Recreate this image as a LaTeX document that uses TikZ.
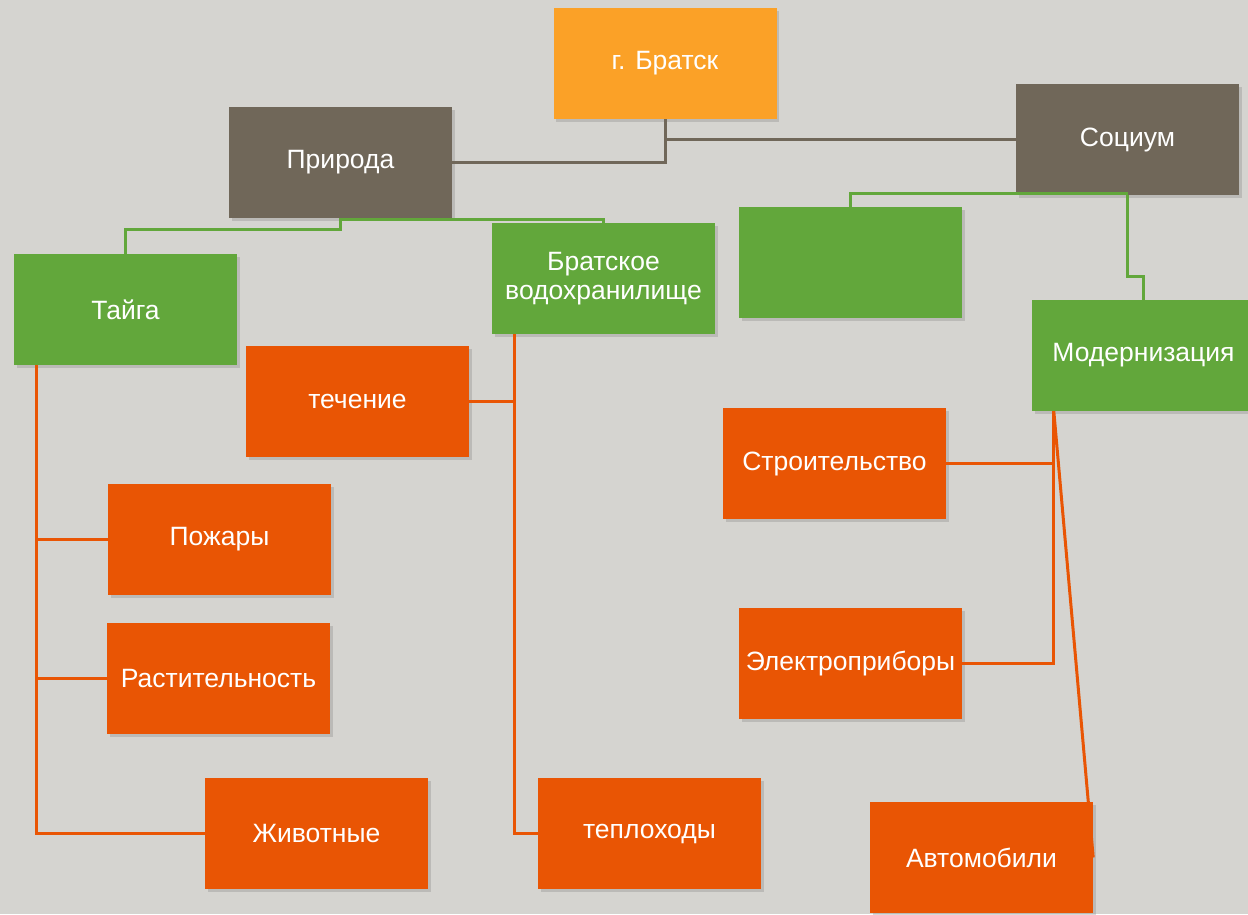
\documentclass[tikz,border=0pt]{standalone}
\usepackage{fontspec}
\setmainfont{Liberation Sans}
\usetikzlibrary{shadows}
\definecolor{bgc}{HTML}{D5D4D0}
\definecolor{gold}{HTML}{FBA127}
\definecolor{brn}{HTML}{706759}
\definecolor{grn}{HTML}{62A73B}
\definecolor{org}{HTML}{E95504}
\tikzset{
  box/.style={rectangle, minimum width=223pt, minimum height=111pt, inner sep=0pt,
    text=white, font=\fontsize{26.5}{29}\selectfont, align=center,
    drop shadow={shadow xshift=2.5pt, shadow yshift=-2.5pt, opacity=0.3}},
  goldbox/.style={box, fill=gold},
  brnbox/.style={box, fill=brn},
  grnbox/.style={box, fill=grn},
  orgbox/.style={box, fill=org},
  brnline/.style={draw=brn, line width=3pt},
  grnline/.style={draw=grn, line width=3pt},
  orgline/.style={draw=org, line width=3pt},
}
\begin{document}
\begin{tikzpicture}[x=1pt, y=-1pt]
\fill[bgc] (0,0) rectangle (1248,914);
\useasboundingbox (0,0) rectangle (1248,914);
\node[brnbox] (priroda) at (340.5,162.5) {Природа};
\node[goldbox] (bratsk) at (665,63.5) {г. Братск};
\node[brnbox] (socium) at (1127.5,139.5) {Социум};
\node[grnbox] (taiga) at (125.5,309.5) {Тайга};
\node[grnbox] (vodo) at (603.5,278.5) {Братское\\водохранилище};
\node[grnbox] (blank) at (850.5,262.5) {};
\node[grnbox] (modern) at (1143.5,355.5) {Модернизация};
\node[orgbox] (tech) at (357.5,401.5) {течение};
\node[orgbox] (pozh) at (219.5,539.5) {Пожары};
\node[orgbox] (rast) at (218.5,678.5) {Растительность};
\node[orgbox] (zhiv) at (316.5,833.5) {Животные};
\node[orgbox] (tepl) at (649.5,833.5) {теплоходы};
\node[orgbox] (stroi) at (834.5,463.5) {Строительство};
\node[orgbox] (elek) at (850.5,663.5) {Электроприборы};
\node[orgbox] (avto) at (981.5,857.5) {Автомобили};
% brown connectors
\draw[brnline] (priroda.east) -| (bratsk.south);
\draw[brnline] (bratsk.south |- socium.west) -- (socium.west);
% green connectors
\draw[grnline] (priroda.south) -- ++(0,11) -| (taiga.north);
\draw[grnline] ([yshift=-1.5pt]priroda.south) -| (vodo.north);
\draw[grnline] ([yshift=1.5pt]socium.south) -| (blank.north);
\draw[grnline] (socium.south) -- ++(0,81) -| (modern.north);
% orange connectors
\coordinate (tv) at ([xshift=23pt]taiga.south west);
\draw[orgline] (tv) |- (zhiv.west);
\draw[orgline] (tv |- pozh.west) -- (pozh.west);
\draw[orgline] (tv |- rast.west) -- (rast.west);
\coordinate (vv) at ([xshift=23pt]vodo.south west);
\draw[orgline] (vv) |- (tepl.west);
\draw[orgline] (vv |- tech.east) -- (tech.east);
\coordinate (mv) at ([xshift=22pt]modern.south west);
\draw[orgline] (mv) |- (elek.east);
\draw[orgline] (mv |- stroi.east) -- (stroi.east);
\draw[orgline] (mv) -- (avto.east);
\end{tikzpicture}
\end{document}
